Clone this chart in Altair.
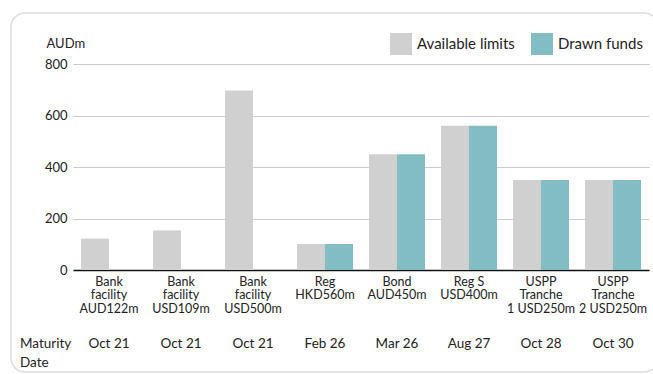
import altair as alt
import pandas as pd

# Facilities (label lines separated by "|"), maturity dates and amounts in AUDm
facilities = [
    "Bank|facility|AUD122m",
    "Bank|facility|USD109m",
    "Bank|facility|USD500m",
    "Reg|HKD560m",
    "Bond|AUD450m",
    "Reg S|USD400m",
    "USPP|Tranche|1 USD250m",
    "USPP|Tranche|2 USD250m",
]
maturities = ["Oct 21", "Oct 21", "Oct 21", "Feb 26", "Mar 26", "Aug 27", "Oct 28", "Oct 30"]
available_limits = [122, 153, 697, 101, 450, 560, 350, 350]
drawn_funds = [0, 0, 0, 101, 450, 560, 350, 350]

series = ["Available limits", "Drawn funds"]
colors = ["#d0d0d0", "#82bdc4"]

bars_df = pd.DataFrame(
    [{"facility": f, "series": series[0], "value": a} for f, a in zip(facilities, available_limits)]
    + [{"facility": f, "series": series[1], "value": d} for f, d in zip(facilities, drawn_funds)]
)
dates_df = pd.DataFrame({"facility": facilities, "date": maturities})

FONT = "Lato"
TEXT = "#222222"

x_enc = alt.X(
    "facility:N",
    sort=facilities,
    scale=alt.Scale(paddingInner=0.2222, paddingOuter=0.1111),
    axis=alt.Axis(
        title=None,
        labelExpr="split(datum.label, '|')",
        labelAngle=0,
        labelFontSize=12.5,
        labelLineHeight=13.5,
        labelPadding=5,
        labelColor=TEXT,
        ticks=False,
        domainColor="#111111",
        domainWidth=1.5,
    ),
)

bars = (
    alt.Chart(bars_df)
    .transform_filter("datum.value > 0")
    .mark_bar()
    .encode(
        x=x_enc,
        xOffset=alt.XOffset("series:N", sort=series, scale=alt.Scale(paddingInner=0, paddingOuter=0)),
        y=alt.Y(
            "value:Q",
            scale=alt.Scale(domain=[0, 800]),
            axis=alt.Axis(
                values=[0, 200, 400, 600, 800],
                title="AUDm",
                titleAngle=0,
                titleAlign="left",
                titleBaseline="middle",
                titleX=-27,
                titleY=-21,
                titleFontSize=13,
                titleFontWeight="normal",
                titleColor=TEXT,
                labelFontSize=13,
                labelColor=TEXT,
                labelPadding=6,
                grid=True,
                gridColor="#cccccc",
                gridWidth=1,
                domain=False,
                ticks=False,
            ),
        ),
        color=alt.Color(
            "series:N",
            sort=series,
            scale=alt.Scale(domain=series, range=colors),
            legend=alt.Legend(
                title=None,
                orient="none",
                legendX=317,
                legendY=-31,
                direction="horizontal",
                symbolType="square",
                symbolSize=484,
                symbolStrokeWidth=0,
                symbolOpacity=1,
                labelFontSize=15,
                labelColor=TEXT,
                labelOffset=5,
                columnPadding=16,
            ),
        ),
    )
)

dates = (
    alt.Chart(dates_df)
    .mark_text(fontSize=13.5, baseline="middle", color=TEXT, font=FONT)
    .encode(x=x_enc, y=alt.value(280), text="date:N")
)

side_label = alt.Chart(pd.DataFrame({"k": [0]}))
maturity_word = side_label.mark_text(
    fontSize=13.5, align="left", baseline="middle", color=TEXT, font=FONT
).encode(x=alt.value(-53), y=alt.value(280), text=alt.value("Maturity"))
date_word = side_label.mark_text(
    fontSize=13.5, align="left", baseline="middle", color=TEXT, font=FONT
).encode(x=alt.value(-53), y=alt.value(299), text=alt.value("Date"))

# rounded panel outline around the whole figure (right edge runs past the page)
frame = side_label.mark_rect(
    fillOpacity=0, stroke="#dddddd", strokeWidth=1.5, cornerRadius=14
).encode(x=alt.value(-62), x2=alt.value(585), y=alt.value(-51), y2=alt.value(308))

chart = (
    alt.layer(frame, bars, dates, maturity_word, date_word)
    .properties(
        width=576,
        height=206,
        padding={"left": 73, "top": 64, "right": 4, "bottom": 104},
        autosize=alt.AutoSizeParams(type="none"),
        background="white",
    )
    .configure(font=FONT)
    .configure_view(strokeWidth=0)
)

chart.save("out.html", embed_options={"renderer": "svg", "actions": False})
